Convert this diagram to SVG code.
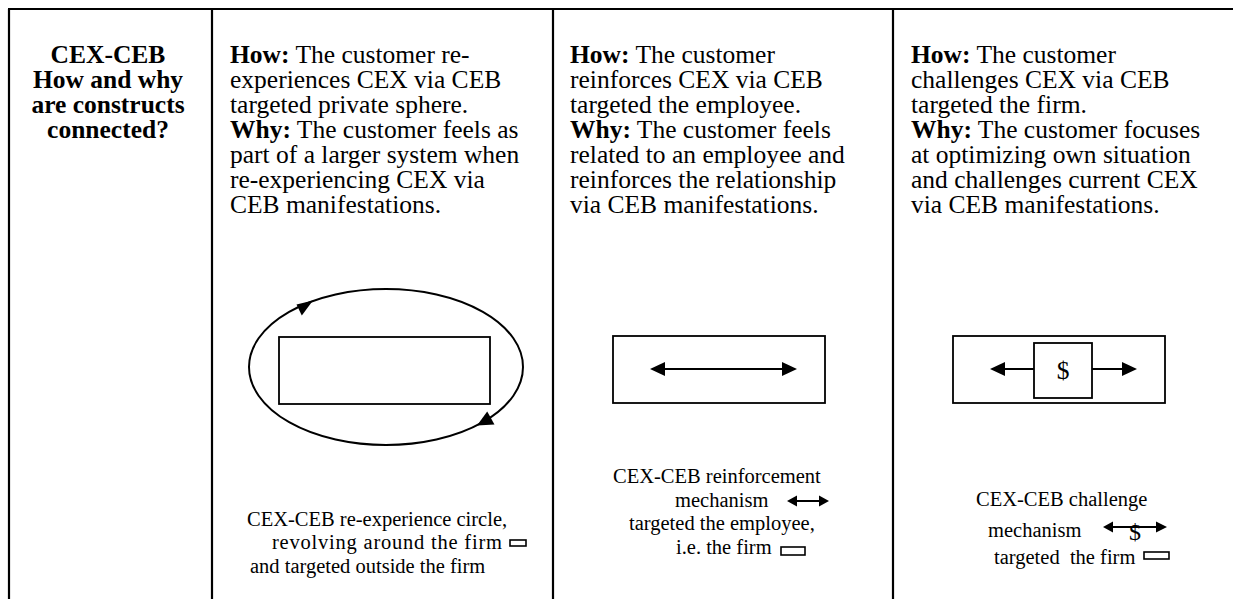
<svg xmlns="http://www.w3.org/2000/svg" width="1233" height="599" viewBox="0 0 1233 599">
<defs>
<style>
.t{font-family:"Liberation Serif","Times New Roman",serif;font-size:25.5px;fill:#000}
.b{font-weight:bold}
.c{font-family:"Liberation Serif","Times New Roman",serif;font-size:20.5px;fill:#000}
.grid{stroke:#000;stroke-width:2.2;fill:none}
.box{stroke:#000;stroke-width:1.8;fill:#fff}
.ln{stroke:#000;stroke-width:2;fill:none}
.ah{fill:#000}
.mini{fill:#fff;stroke:#000;stroke-width:1.6}
</style>
</defs>
<rect width="1233" height="599" fill="#fff"/>
<g id="table" class="grid">
<line x1="8" y1="9" x2="1233" y2="9"/>
<line x1="9" y1="9" x2="9" y2="599"/>
<line x1="212" y1="9" x2="212" y2="599"/>
<line x1="553" y1="9" x2="553" y2="599"/>
<line x1="893" y1="9" x2="893" y2="599"/>
</g>
<g id="header">
<text class="t b" text-anchor="middle" x="108" y="63">CEX-CEB</text>
<text class="t b" text-anchor="middle" x="108" y="88">How and why</text>
<text class="t b" text-anchor="middle" x="108" y="113">are constructs</text>
<text class="t b" text-anchor="middle" x="108" y="138">connected?</text>
</g>
<g id="col2-text">
<text class="t" x="230" y="63"><tspan class="b">How:</tspan> The customer re-</text>
<text class="t" x="230" y="88">experiences CEX via CEB</text>
<text class="t" x="230" y="113">targeted private sphere.</text>
<text class="t" x="230" y="138"><tspan class="b">Why:</tspan> The customer feels as</text>
<text class="t" x="230" y="163">part of a larger system when</text>
<text class="t" x="230" y="188">re-experiencing CEX via</text>
<text class="t" x="230" y="213">CEB manifestations.</text>
</g>
<g id="col3-text">
<text class="t" x="570" y="63"><tspan class="b">How:</tspan> The customer</text>
<text class="t" x="570" y="88">reinforces CEX via CEB</text>
<text class="t" x="570" y="113">targeted the employee.</text>
<text class="t" x="570" y="138"><tspan class="b">Why:</tspan> The customer feels</text>
<text class="t" x="570" y="163">related to an employee and</text>
<text class="t" x="570" y="188">reinforces the relationship</text>
<text class="t" x="570" y="213">via CEB manifestations.</text>
</g>
<g id="col4-text">
<text class="t" x="911" y="63"><tspan class="b">How:</tspan> The customer</text>
<text class="t" x="911" y="88">challenges CEX via CEB</text>
<text class="t" x="911" y="113">targeted the firm.</text>
<text class="t" x="911" y="138"><tspan class="b">Why:</tspan> The customer focuses</text>
<text class="t" x="911" y="163">at optimizing own situation</text>
<text class="t" x="911" y="188">and challenges current CEX</text>
<text class="t" x="911" y="213">via CEB manifestations.</text>
</g>
<g id="circle-firm">
<rect class="box" x="279" y="337" width="211" height="67"/>
</g>
<g id="reinforce-firm">
<rect class="box" x="613" y="336" width="212" height="67"/>
</g>
<g id="challenge-firm">
<rect class="box" x="953" y="336" width="212" height="67"/>
</g>
<g id="dollar-box">
<rect class="box" x="1034" y="343" width="58" height="55"/>
<text class="t" text-anchor="middle" x="1063" y="379">$</text>
</g>
<g id="connectors">
<ellipse class="ln" cx="386" cy="367" rx="137" ry="78"/>
<polygon class="ah" points="313,300.5 296.5,304.6 301.8,315.5"/>
<polygon class="ah" points="477,425.5 487.2,411.5 494.5,424.5"/>
<line class="ln" x1="665" y1="369" x2="782" y2="369"/>
<polygon class="ah" points="650,369 665,362 665,376"/>
<polygon class="ah" points="797,369 782,362 782,376"/>
<line class="ln" x1="1005" y1="369" x2="1034" y2="369"/>
<polygon class="ah" points="990,369 1005,362 1005,376"/>
<line class="ln" x1="1092" y1="369" x2="1122" y2="369"/>
<polygon class="ah" points="1137,369 1122,362 1122,376"/>
</g>
<g id="caption-circle">
<text class="c" x="247" y="526">CEX-CEB re-experience circle,</text>
<text class="c" x="272" y="549" textLength="230" lengthAdjust="spacing">revolving around the firm</text>
<rect class="mini" x="510" y="540" width="16" height="6"/>
<text class="c" x="250" y="573">and targeted outside the firm</text>
</g>
<g id="caption-reinforce">
<text class="c" x="613" y="483">CEX-CEB reinforcement</text>
<text class="c" x="675" y="507">mechanism</text>
<line x1="793" y1="501" x2="822" y2="501" stroke="#000" stroke-width="2"/>
<polygon class="ah" points="787,501 797,495.5 797,506.5"/>
<polygon class="ah" points="829,501 819,495.5 819,506.5"/>
<text class="c" x="629" y="530">targeted the employee,</text>
<text class="c" x="676" y="554">i.e. the firm</text>
<rect class="mini" x="781" y="547" width="24" height="8"/>
</g>
<g id="caption-challenge">
<text class="c" x="976" y="506">CEX-CEB challenge</text>
<text class="c" x="988" y="537">mechanism</text>
<line x1="1108" y1="527" x2="1160" y2="527" stroke="#000" stroke-width="2"/>
<polygon class="ah" points="1103,527 1113,521.5 1113,532.5"/>
<polygon class="ah" points="1167,527 1156,521.5 1156,532.5"/>
<text class="c" text-anchor="middle" x="1135" y="540" style="font-size:24px">$</text>
<text class="c" x="994" y="564" xml:space="preserve">targeted  the firm</text>
<rect class="mini" x="1144" y="552" width="25" height="7"/>
</g>
</svg>
